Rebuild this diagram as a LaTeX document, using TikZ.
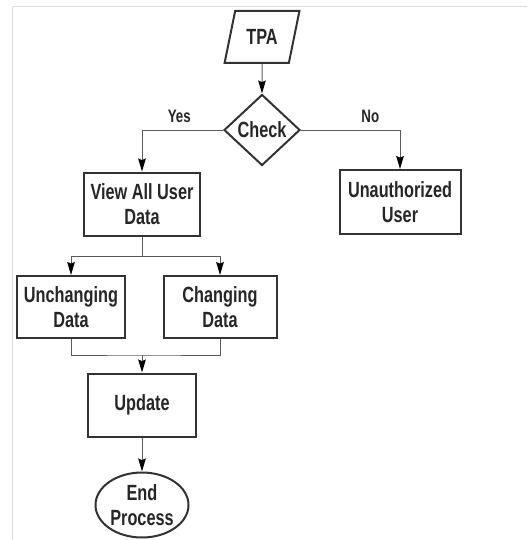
\documentclass[tikz,border=0pt]{standalone}
\usepackage{fontspec}
\setmainfont{Liberation Sans}[FakeStretch=0.74]
\usepackage{xcolor}
\usetikzlibrary{shapes.geometric,positioning,arrows.meta}

\definecolor{boxline}{HTML}{333333}
\definecolor{wire}{HTML}{5A5A5A}
\definecolor{frame}{HTML}{DDDDDD}

\begin{document}
\begin{tikzpicture}[
			x=0.5pt,y=-0.5pt,
			->,>={Stealth[length=6.5pt,width=3.8pt,inset=0.8pt,color=black]},
			wire/.style={draw=wire, line width=0.5pt},
			block/.style={
				draw=boxline,
				line width=1pt,
				rectangle,
				align=center,
				inner sep=1pt,
				font=\bfseries\fontsize{11}{12.7}\selectfont,
				text=black!85
			},
			io/.style={
				block,
				trapezium,
				trapezium left angle=70,
				trapezium right angle=110,
				trapezium stretches=true,
				minimum width=37.5pt,
				minimum height=26pt
			},
			decision/.style={
				block,
				diamond,
				inner sep=0pt,
				minimum width=38pt,
				minimum height=35.5pt
			},
			terminal/.style={
				block,
				ellipse,
				inner sep=0pt,
				minimum width=46.5pt,
				minimum height=32.5pt
			},
			every node/.style={font=\bfseries\fontsize{9}{10}\selectfont}
			]
			\useasboundingbox (0,0) rectangle (527,540);
			% light frame of the page
			\draw[-, draw=frame, line width=0.5pt] (527,7) -- (12,7) -- (12,540);
			
			% Input and decision
			\node[io] (tpa) at (262,37) {TPA};
			\node[decision, below of=tpa, node distance=46.5pt] (check) {Check};
			
			% Both outcomes of the check
			\node[block, minimum width=58pt, minimum height=31.5pt] (view) at (142,204) {View All User\\Data};
			\node[block, minimum width=60.5pt, minimum height=32pt] (unauth) at (400,202) {Unauthorized\\User};
			
			% Two kinds of data
			\node[block, minimum width=54pt, minimum height=31pt, below of=view, node distance=51.5pt, xshift=-35.5pt] (unchanging) {Unchanging\\Data};
			\node[block, minimum width=56.5pt, minimum height=31pt, below of=view, node distance=51.5pt, xshift=39pt] (changing) {Changing\\Data};
			
			% Update and end
			\node[block, minimum width=54pt, minimum height=31.5pt] (update) at (142,405) {Update};
			\node[terminal, below of=update, node distance=50pt] (end) {End\\Process};
			
			\coordinate (split) at (142,256);
			\coordinate (merge) at (142,355);
			
			% Connectors
			\draw[wire] (tpa) -- (check);
			\draw[wire] (check.west) -| node[pos=0.27, above, text=black!85] {Yes} (view.north);
			\draw[wire] (check.east) -| node[pos=0.35, above, text=black!85] {No} (unauth.north);
			\draw[wire, -] (view.south) -- (split);
			\draw[wire] (split) -| (unchanging.north);
			\draw[wire] (split) -| (changing.north);
			\draw[wire, -] (unchanging.south) |- (merge) -| (changing.south);
			\draw[wire] (merge) -- (update);
			\draw[wire] (update) -- (end);
		\end{tikzpicture}
\end{document}
